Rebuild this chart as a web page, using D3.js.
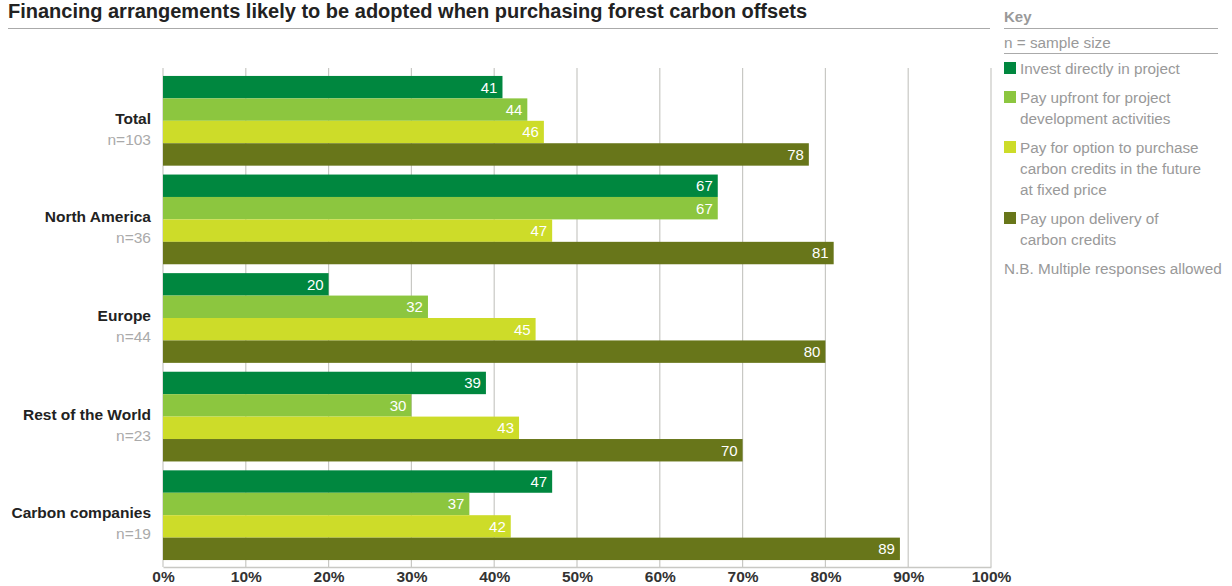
<!DOCTYPE html>
<html>
<head>
<meta charset="utf-8">
<script src="https://cdn.jsdelivr.net/npm/d3@7"></script>
<style>
  body { margin: 0; background: #fff; font-family: "Liberation Sans", Arial, sans-serif; }
</style>
</head>
<body>
<svg id="chart" width="1232" height="586"></svg>
<script>
const categories = ["Total", "North America", "Europe", "Rest of the World", "Carbon companies"];
const sampleSizes = ["n=103", "n=36", "n=44", "n=23", "n=19"];
const seriesNames = [
  "Invest directly in project",
  "Pay upfront for project development activities",
  "Pay for option to purchase carbon credits in the future at fixed price",
  "Pay upon delivery of carbon credits"
];
const investDirectly = [41, 67, 20, 39, 47];
const payUpfront = [44, 67, 32, 30, 37];
const payOption = [46, 47, 45, 43, 42];
const payDelivery = [78, 81, 80, 70, 89];
const ticks = [0, 10, 20, 30, 40, 50, 60, 70, 80, 90, 100];
const colors = ["#00873f", "#8cc63f", "#cddc29", "#68761a"];
const legendLines = [
  ["Invest directly in project"],
  ["Pay upfront for project", "development activities"],
  ["Pay for option to purchase", "carbon credits in the future", "at fixed price"],
  ["Pay upon delivery of", "carbon credits"]
];

const series = [investDirectly, payUpfront, payOption, payDelivery];

const svg = d3.select("#chart");

// title
svg.append("text")
  .attr("x", 8).attr("y", 18)
  .attr("font-size", 20).attr("font-weight", "bold").attr("fill", "#222")
  .text("Financing arrangements likely to be adopted when purchasing forest carbon offsets");
svg.append("line")
  .attr("x1", 8).attr("x2", 990).attr("y1", 28.5).attr("y2", 28.5)
  .attr("stroke", "#aaa").attr("stroke-width", 1);

// scales
const x = d3.scaleLinear().domain([0, 100]).range([163, 991]);
const y = d3.scaleBand().domain(categories).range([72, 564]).paddingInner(0.09).paddingOuter(0.04);
const ySub = d3.scaleBand().domain(d3.range(series.length)).range([0, y.bandwidth()]);

// grid
svg.append("g")
  .selectAll("line")
  .data(ticks)
  .join("line")
  .attr("x1", (d) => x(d)).attr("x2", (d) => x(d))
  .attr("y1", 68).attr("y2", 567)
  .attr("stroke", "#c8c8c4").attr("stroke-width", 1.2);

// x axis
const xAxis = svg.append("g")
  .attr("transform", "translate(0,567)")
  .call(d3.axisBottom(x).tickValues(ticks).tickFormat((d) => d + "%").tickSize(0).tickPadding(4));
xAxis.select(".domain").attr("stroke", "#c8c8c4").attr("stroke-width", 1.5);
xAxis.selectAll("text")
  .attr("font-family", "Liberation Sans, Arial, sans-serif")
  .attr("font-size", 15.5).attr("font-weight", "bold").attr("fill", "#333");

// bars
const groups = svg.append("g")
  .selectAll("g")
  .data(categories)
  .join("g")
  .attr("transform", (d) => `translate(0,${y(d)})`);

groups.each(function (cat, i) {
  const g = d3.select(this);
  series.forEach((s, j) => {
    g.append("rect")
      .attr("x", x(0))
      .attr("y", ySub(j))
      .attr("width", x(s[i]) - x(0))
      .attr("height", ySub.bandwidth())
      .attr("fill", colors[j]);
    g.append("text")
      .attr("x", x(s[i]) - 5)
      .attr("y", ySub(j) + ySub.bandwidth() / 2)
      .attr("dy", "0.36em")
      .attr("text-anchor", "end")
      .attr("font-size", 15).attr("fill", "#fff")
      .text(s[i]);
  });
  g.append("text")
    .attr("x", 151).attr("y", y.bandwidth() / 2 + 3)
    .attr("text-anchor", "end")
    .attr("font-size", 15.5).attr("font-weight", "bold").attr("fill", "#222")
    .text(cat);
  g.append("text")
    .attr("x", 151).attr("y", y.bandwidth() / 2 + 24)
    .attr("text-anchor", "end")
    .attr("font-size", 15.5).attr("fill", "#aaa")
    .text(sampleSizes[i]);
});

// key
const key = svg.append("g").attr("transform", "translate(1004,0)");
key.append("text").attr("x", 0).attr("y", 22)
  .attr("font-size", 15).attr("font-weight", "bold").attr("fill", "#999").text("Key");
key.append("line").attr("x1", 0).attr("x2", 214).attr("y1", 28.5).attr("y2", 28.5)
  .attr("stroke", "#aaa");
key.append("text").attr("x", 0).attr("y", 48)
  .attr("font-size", 15.3).attr("fill", "#999").text("n = sample size");
key.append("line").attr("x1", 0).attr("x2", 214).attr("y1", 53.5).attr("y2", 53.5)
  .attr("stroke", "#aaa");

let ly = 62;
legendLines.forEach((lines, j) => {
  key.append("rect").attr("x", 0).attr("y", ly).attr("width", 12).attr("height", 12)
    .attr("fill", colors[j]);
  lines.forEach((t, k) => {
    key.append("text").attr("x", 16).attr("y", ly + 12 + k * 21)
      .attr("font-size", 15.3).attr("fill", "#999").text(t);
  });
  ly += lines.length * 21 + 8;
});
key.append("text").attr("x", 0).attr("y", ly + 12)
  .attr("font-size", 15.3).attr("fill", "#999").text("N.B. Multiple responses allowed");
</script>
</body>
</html>
